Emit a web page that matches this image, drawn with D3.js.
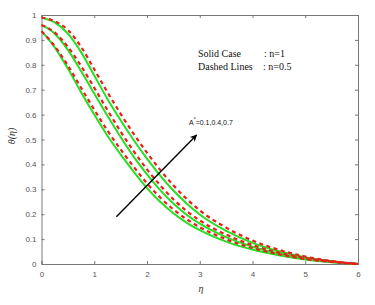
<!DOCTYPE html>
<html>
<head>
<meta charset="utf-8">
<script src="https://cdn.jsdelivr.net/npm/d3@7"></script>
<style>
  body { margin: 0; background: #fff; }
  svg { display: block; }
</style>
</head>
<body>
<script>
const width = 375, height = 305;

// eta grid shared by all curves
const eta = [0, 0.25, 0.5, 0.75, 1, 1.25, 1.5, 1.75, 2, 2.25, 2.5, 2.75, 3, 3.5, 4, 4.5, 5, 5.5, 6];

// solid lines, n = 1 (A* = 0.1, 0.4, 0.7)
const solidA1 = [0.935, 0.87, 0.785, 0.69, 0.6, 0.515, 0.44, 0.37, 0.305, 0.25, 0.204, 0.166, 0.136, 0.09, 0.058, 0.035, 0.018, 0.007, 0];
const solidA4 = [0.96, 0.925, 0.86, 0.775, 0.685, 0.595, 0.51, 0.43, 0.36, 0.297, 0.243, 0.198, 0.162, 0.108, 0.069, 0.042, 0.022, 0.009, 0];
const solidA7 = [0.99, 0.97, 0.925, 0.851, 0.757, 0.663, 0.577, 0.497, 0.423, 0.355, 0.295, 0.243, 0.199, 0.133, 0.085, 0.051, 0.027, 0.011, 0];

// dashed lines, n = 0.5
const dashA1 = [0.935, 0.875, 0.797, 0.708, 0.62, 0.536, 0.46, 0.39, 0.324, 0.267, 0.219, 0.18, 0.148, 0.099, 0.064, 0.039, 0.02, 0.008, 0];
const dashA4 = [0.96, 0.93, 0.872, 0.795, 0.708, 0.618, 0.532, 0.452, 0.38, 0.316, 0.26, 0.213, 0.175, 0.118, 0.076, 0.046, 0.024, 0.01, 0];
const dashA7 = [0.99, 0.975, 0.94, 0.872, 0.782, 0.69, 0.603, 0.522, 0.447, 0.378, 0.316, 0.262, 0.215, 0.146, 0.094, 0.057, 0.03, 0.012, 0];

const xTicks = [0, 1, 2, 3, 4, 5, 6];
const yTicks = [0, 0.1, 0.2, 0.3, 0.4, 0.5, 0.6, 0.7, 0.8, 0.9, 1];

// annotation arrow (data coords)
const arrowFrom = [1.42, 0.19];
const arrowTo = [2.94, 0.518];

const x = d3.scaleLinear().domain([0, 6]).range([41.5, 358]);
const y = d3.scaleLinear().domain([0, 1]).range([264, 15]);

const svg = d3.select("body").append("svg")
  .attr("width", width).attr("height", height);

const axisColor = "#777";
const labelColor = "#555";

// axes, MATLAB style ticks pointing in
const fmtY = d => d === 0 ? "0" : d === 1 ? "1" : d3.format(".1f")(d);

const gx = svg.append("g").attr("transform", `translate(0,${y(0)})`)
  .call(d3.axisBottom(x).tickValues(xTicks).tickSize(-3).tickPadding(7).tickFormat(d3.format("d")));
const gxTop = svg.append("g").attr("transform", `translate(0,${y(1)})`)
  .call(d3.axisTop(x).tickValues(xTicks).tickSize(-3).tickFormat(""));
const gy = svg.append("g").attr("transform", `translate(${x(0)},0)`)
  .call(d3.axisLeft(y).tickValues(yTicks).tickSize(-3).tickPadding(5).tickFormat(fmtY));
const gyRight = svg.append("g").attr("transform", `translate(${x(6)},0)`)
  .call(d3.axisRight(y).tickValues(yTicks).tickSize(-3).tickFormat(""));

[gx, gxTop, gy, gyRight].forEach(g => {
  g.select(".domain").attr("stroke", axisColor);
  g.selectAll(".tick line").attr("stroke", axisColor);
  g.selectAll(".tick text")
    .attr("fill", labelColor)
    .attr("font-family", "Liberation Sans, Arial, sans-serif")
    .attr("font-size", 8);
});

const line = d3.line()
  .x((d, i) => x(eta[i]))
  .y(d => y(d))
  .curve(d3.curveMonotoneX);

const solids = [solidA1, solidA4, solidA7];
const dashes = [dashA1, dashA4, dashA7];

svg.append("g").selectAll("path")
  .data(solids)
  .join("path")
  .attr("d", line)
  .attr("fill", "none")
  .attr("stroke", "#22e022")
  .attr("stroke-width", 2);

svg.append("g").selectAll("path")
  .data(dashes)
  .join("path")
  .attr("d", line)
  .attr("fill", "none")
  .attr("stroke", "#ee1c1c")
  .attr("stroke-width", 2.2)
  .attr("stroke-dasharray", "4,3.5");

// arrow
svg.append("defs").append("marker")
  .attr("id", "arrowhead")
  .attr("viewBox", "0 0 10 10")
  .attr("refX", 9).attr("refY", 5)
  .attr("markerWidth", 7).attr("markerHeight", 7)
  .attr("markerUnits", "userSpaceOnUse")
  .attr("orient", "auto")
  .append("path")
  .attr("d", "M0,0 L10,5 L0,10 L3,5 Z")
  .attr("fill", "#000");

svg.append("line")
  .attr("x1", x(arrowFrom[0])).attr("y1", y(arrowFrom[1]))
  .attr("x2", x(arrowTo[0])).attr("y2", y(arrowTo[1]))
  .attr("stroke", "#000")
  .attr("stroke-width", 1.4)
  .attr("marker-end", "url(#arrowhead)");

const ann = svg.append("text")
  .attr("x", 189).attr("y", 124.5)
  .attr("font-family", "Liberation Sans, Arial, sans-serif")
  .attr("font-size", 7)
  .attr("fill", "#111");
ann.append("tspan").text("A");
ann.append("tspan").attr("dy", -3.5).attr("font-size", 5).text("*");
ann.append("tspan").attr("dy", 3.5).text("=0.1,0.4,0.7");

// legend note
const note = svg.append("g")
  .attr("font-family", "Liberation Serif, Times New Roman, serif")
  .attr("font-size", 10)
  .attr("fill", "#111");
note.append("text").attr("x", 198).attr("y", 57).text("Solid Case");
note.append("text").attr("x", 264).attr("y", 57).text(": n=1");
note.append("text").attr("x", 198).attr("y", 70).text("Dashed Lines");
note.append("text").attr("x", 263).attr("y", 70).text(": n=0.5");

// axis titles
svg.append("text")
  .attr("x", 201).attr("y", 292)
  .attr("text-anchor", "middle")
  .attr("font-family", "Liberation Serif, Times New Roman, serif")
  .attr("font-style", "italic")
  .attr("font-size", 10)
  .attr("fill", "#333")
  .text("η");

svg.append("text")
  .attr("transform", "translate(15,136) rotate(-90)")
  .attr("text-anchor", "middle")
  .attr("font-family", "Liberation Serif, Times New Roman, serif")
  .attr("font-style", "italic")
  .attr("font-size", 10)
  .attr("fill", "#333")
  .text("θ(η)");
</script>
</body>
</html>
